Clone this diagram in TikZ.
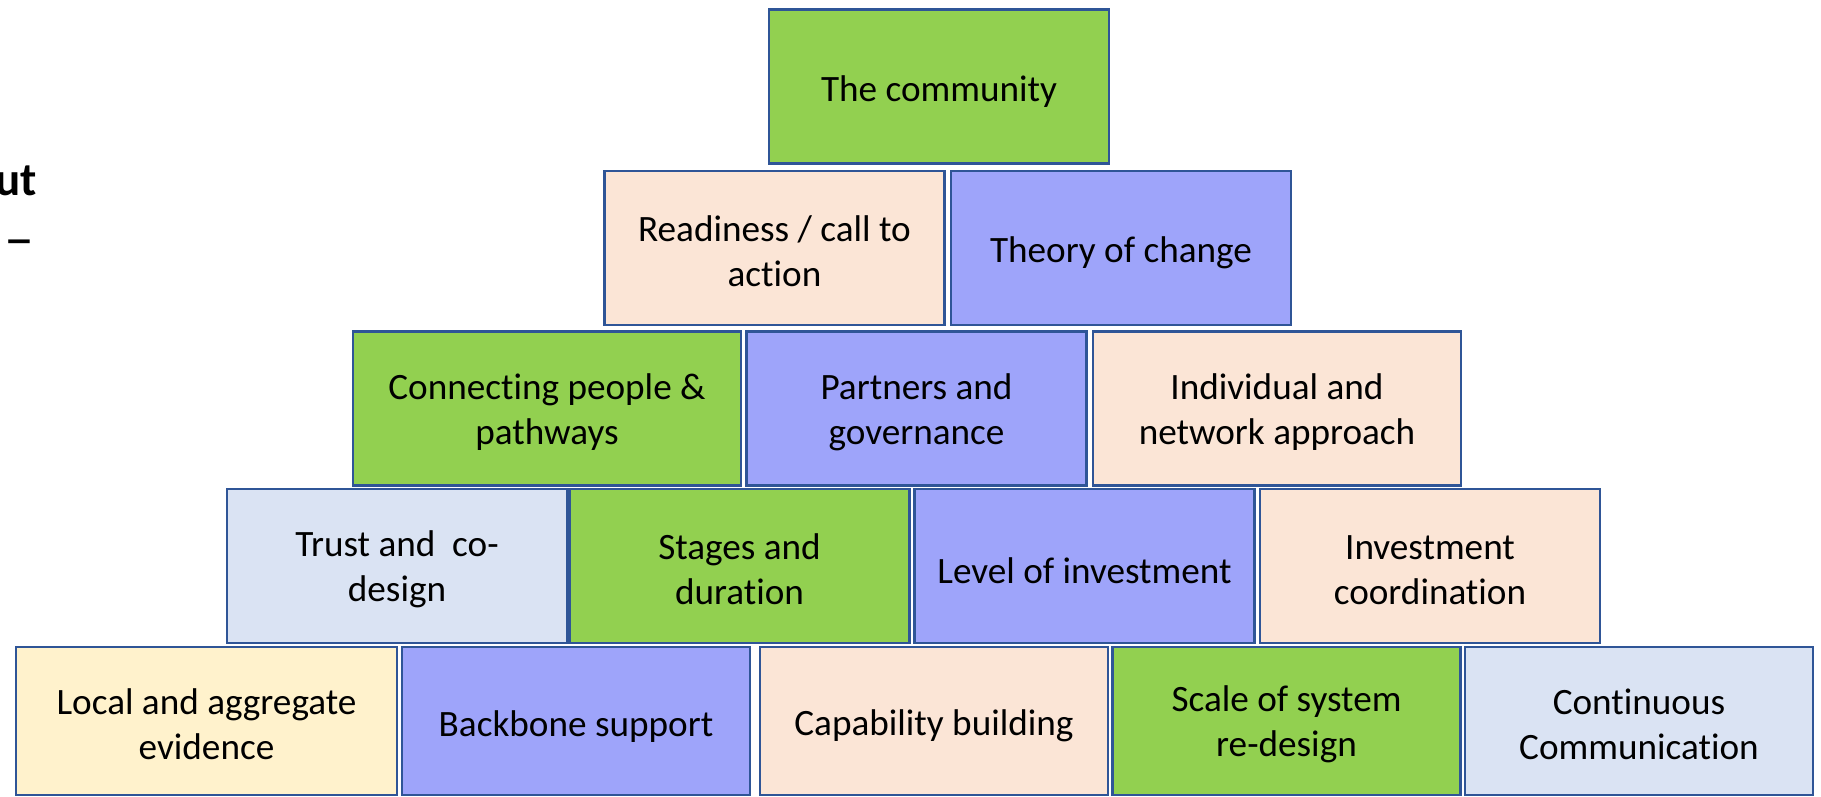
\documentclass[tikz,border=0pt]{standalone}
\usepackage{fontspec}
\setmainfont{Carlito}[Ligatures=NoCommon]
\definecolor{boxgreen}{HTML}{92D050}
\definecolor{boxblue}{HTML}{9EA4FA}
\definecolor{boxpeach}{HTML}{FBE5D6}
\definecolor{boxpale}{HTML}{DAE3F3}
\definecolor{boxyellow}{HTML}{FFF2CC}
\definecolor{boxline}{HTML}{2F5597}
\newcommand{\lift}{\rule{0pt}{16.5pt}}
\begin{document}
\begin{tikzpicture}
  [x=0.5pt,y=-0.5pt,
   every node/.style={inner sep=0pt,align=center,font=\fontsize{18.6}{22.5}\selectfont},
   block/.style={draw=boxline,line width=1.2pt,minimum width=170pt,minimum height=77pt,
     execute at begin node=\rule{0pt}{18pt}},
   greenbox/.style={block,fill=boxgreen},
   bluebox/.style={block,fill=boxblue},
   peachbox/.style={block,fill=boxpeach},
   palebox/.style={block,fill=boxpale},
   yellowbox/.style={block,fill=boxyellow},
   bottom/.style={minimum height=74pt,minimum width=174pt}]
  \useasboundingbox (0,0) rectangle (1821,797);
  % top
  \node[greenbox] (community) at (939,86.5) {The community};
  % row 2
  \node[peachbox] (readiness) at (774.5,248) {\lift Readiness / call to\\action};
  \node[bluebox]  (theory)    at (1121,248)  {Theory of change};
  % row 3
  \node[greenbox,minimum width=194pt] (connecting) at (547,408.5)  {\lift Connecting people \&\\pathways};
  \node[bluebox]                      (partners)   at (916.5,408.5) {\lift Partners and\\governance};
  \node[peachbox,minimum width=184pt] (individual) at (1277,408.5) {\lift Individual and\\network approach};
  % row 4
  \node[palebox]  (trust)      at (397,566)    {\lift Trust and~ co-\\design};
  \node[greenbox] (stages)     at (739.5,566)  {\lift Stages and\\duration};
  \node[bluebox]  (level)      at (1084.5,566) {Level of investment};
  \node[peachbox] (investment) at (1430,566)   {\lift Investment\\coordination};
  % bottom row
  \node[yellowbox,bottom,minimum width=190.5pt] (local) at (206.5,721) {\lift Local and aggregate\\evidence};
  \node[bluebox,bottom]   (backbone)   at (576,721)    {Backbone support};
  \node[peachbox,bottom]  (capability) at (934,721)    {Capability building};
  \node[greenbox,bottom]  (scale)      at (1286.5,721) {\lift Scale of system\\re-design};
  \node[palebox,bottom]   (continuous) at (1639,721)   {\lift Continuous\\Communication};
  % cut-off title at the left edge
  \node[anchor=base east,font=\fontsize{23.5}{28}\selectfont\bfseries] (titleend) at (37,195) {ut};
  \node[anchor=base east,font=\fontsize{30}{34}\selectfont] (titledash) at (35,258) {\textendash};
\end{tikzpicture}
\end{document}
